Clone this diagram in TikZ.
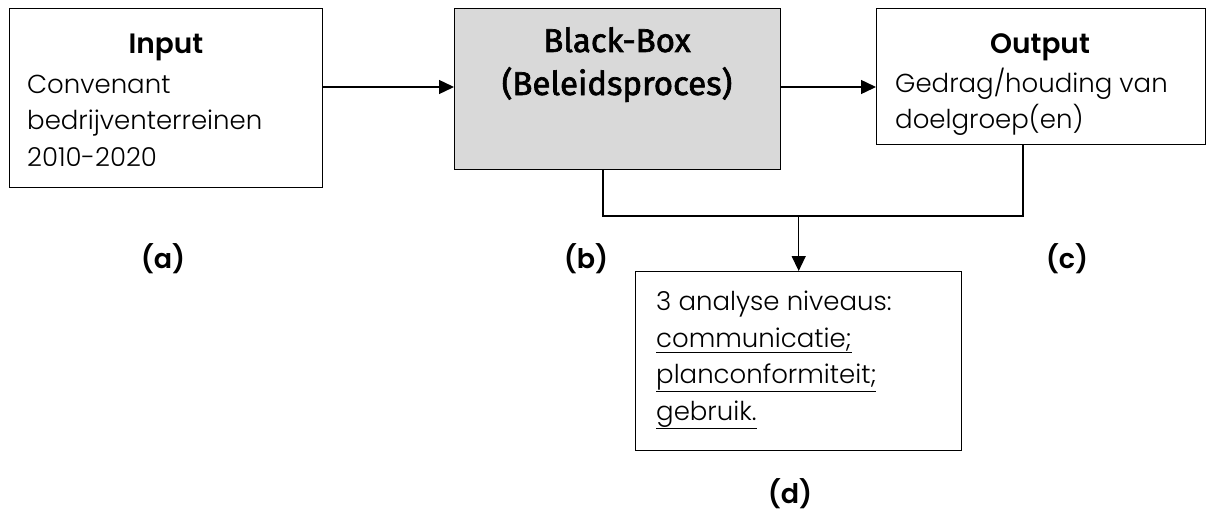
\documentclass[tikz,border=0pt]{standalone}
\usepackage{fontspec}
\setmainfont{Poppins}[UprightFont={* Light}, BoldFont={* SemiBold}]
\newfontfamily\bbfont{Fira Sans}[UprightFeatures={FakeBold=2}]
\usetikzlibrary{arrows.meta}
\definecolor{boxgray}{HTML}{D9D9D9}
\tikzset{
  frame/.style={draw, line width=1.4pt, inner sep=0pt, anchor=north west},
  body/.style={inner sep=0pt, anchor=base west, font=\fontsize{26}{30}\selectfont},
  title/.style={inner sep=0pt, anchor=base, font=\fontsize{28}{32}\selectfont\bfseries},
  tag/.style={inner sep=0pt, anchor=base, font=\fontsize{27}{31}\selectfont\bfseries},
  bbtext/.style={inner sep=0pt, anchor=base, font=\fontsize{33}{37}\selectfont\bbfont},
  link/.style={line width=1.4pt},
  flow/.style={link, -{Triangle[length=15pt,width=14pt]}}
}
\begin{document}
\begin{tikzpicture}[x=1pt,y=-1pt]
\useasboundingbox (0,0) rectangle (1206,511);

% boxes
\node[frame, minimum width=313pt, minimum height=179pt] (in) at (9,8) {};
\node[frame, fill=boxgray, minimum width=326pt, minimum height=161pt] (bb) at (454,8) {};
\node[frame, minimum width=329pt, minimum height=136pt] (out) at (876,8) {};
\node[frame, minimum width=326pt, minimum height=179pt] (lv) at (635,271) {};

% input text
\node[title] (inT) at (166,53) {Input};
\node[body] (in1) at (27,93) {Convenant};
\node[body] (in2) at (27,129.5) {bedrijventerreinen};
\node[body] (in3) at (27,166) {2010-2020};

% black box text
\node[bbtext] (bbT1) at (617,52) {Black-Box};
\node[bbtext] (bbT2) at (617,95) {(Beleidsproces)};

% output text
\node[title] (outT) at (1040,53) {Output};
\node[body] (out1) at (895,92) {Gedrag/houding van};
\node[body] (out2) at (895,128) {doelgroep(en)};

% analysis levels
\node[body] (lv1) at (656,310) {3 analyse niveaus:};
\node[body] (lv2) at (656,347) {\underline{communicatie;}};
\node[body] (lv3) at (656,383) {\underline{planconformiteit;}};
\node[body] (lv4) at (656,420) {\underline{gebruik.}};

% labels
\node[tag] (ta) at (163,268) {(a)};
\node[tag] (tb) at (586,268) {(b)};
\node[tag] (tc) at (1067,268) {(c)};
\node[tag] (td) at (790,503) {(d)};

% connectors
\draw[flow] (in.east |- 0,87) -- (bb.west |- 0,87);
\draw[flow] (bb.east |- 0,87) -- (out.west |- 0,87);
\coordinate (j) at (lv.north |- 0,216);
\draw[link] (bb.south -| 603,0) -- (603,216) -- (1023,216) -- (out.south -| 1023,0);
\draw[flow] (j) -- (lv.north);
\end{tikzpicture}
\end{document}
